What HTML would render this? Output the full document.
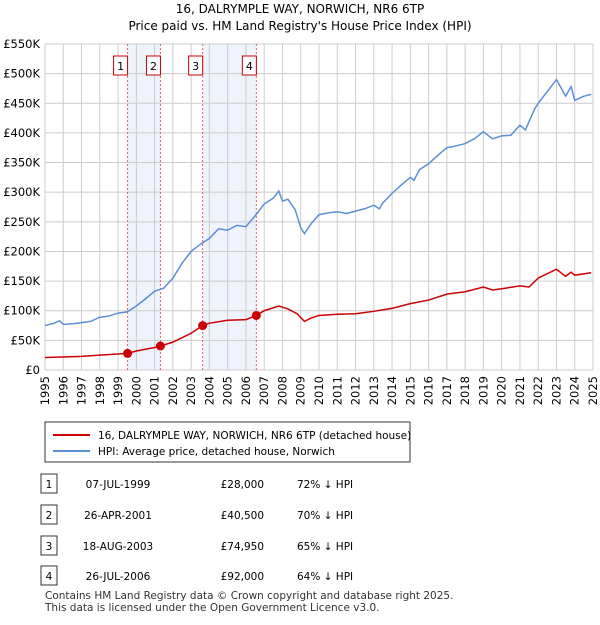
<!DOCTYPE html>
<html><head><meta charset="utf-8"><style>
body{margin:0;background:#fff;font-family:"Liberation Sans",sans-serif;}
svg text{font-family:"DejaVu Sans","Liberation Sans",sans-serif;}
</style></head><body>
<svg width="600" height="620" xmlns="http://www.w3.org/2000/svg">
<text x="300" y="13" text-anchor="middle" font-size="12">16, DALRYMPLE WAY, NORWICH, NR6 6TP</text>
<text x="300" y="30" text-anchor="middle" font-size="12">Price paid vs. HM Land Registry's House Price Index (HPI)</text>
<g id="plot"></g>
<g>
<rect x="45" y="422" width="365" height="40" fill="#fff" stroke="#333"/>
<line x1="53" y1="435" x2="90" y2="435" stroke="#cc0000" stroke-width="2"/>
<text x="98" y="439" font-size="10.5">16, DALRYMPLE WAY, NORWICH, NR6 6TP (detached house)</text>
<line x1="53" y1="451" x2="90" y2="451" stroke="#5b8fd4" stroke-width="2"/>
<text x="98" y="455" font-size="10.5">HPI: Average price, detached house, Norwich</text>
</g>
<g id="table" font-size="10.5"></g>
<text x="45" y="599" font-size="10.5" fill="#333">Contains HM Land Registry data © Crown copyright and database right 2025.</text>
<text x="45" y="611" font-size="10.5" fill="#333">This data is licensed under the Open Government Licence v3.0.</text>
</svg>
<script>
const hpiYears=[1995,1995.5,1995.8,1996,1996.5,1997,1997.5,1998,1998.5,1999,1999.5,2000,2000.5,2001,2001.5,2002,2002.5,2003,2003.5,2004,2004.5,2005,2005.5,2006,2006.5,2007,2007.5,2007.8,2008,2008.3,2008.7,2009,2009.2,2009.6,2010,2010.5,2011,2011.5,2012,2012.5,2013,2013.3,2013.5,2014,2014.5,2015,2015.2,2015.5,2016,2016.5,2017,2017.5,2018,2018.5,2019,2019.5,2020,2020.5,2021,2021.3,2021.8,2022,2022.5,2023,2023.5,2023.8,2024,2024.5,2024.9];
const hpiValues=[75,79,83,77,78,80,82,89,91,96,98,108,120,133,138,155,180,200,212,222,238,236,244,242,260,280,290,302,285,288,270,240,230,248,262,265,267,264,268,272,278,272,282,298,312,325,320,338,348,362,375,378,382,390,402,390,395,396,413,405,440,450,470,490,462,478,455,462,465];
const ppYears=[1995,1996,1997,1998,1999,1999.52,2000,2001,2001.32,2002,2003,2003.63,2004,2005,2006,2006.57,2007,2007.8,2008.3,2008.8,2009.2,2009.6,2010,2011,2012,2013,2014,2015,2016,2017,2018,2019,2019.5,2020,2021,2021.5,2022,2023,2023.5,2023.8,2024,2024.9];
const ppValues=[21,22,23,25,27,28,32,38,40.5,47,62,75,79,84,85,92,100,108,103,95,82,88,92,94,95,99,104,112,118,128,132,140,135,137,142,140,155,170,158,165,160,164];
const saleYears=[1999.52,2001.32,2003.63,2006.57];
const saleValues=[28,40.5,74.95,92];
const saleDates=["07-JUL-1999","26-APR-2001","18-AUG-2003","26-JUL-2006"];
const salePrices=["£28,000","£40,500","£74,950","£92,000"];
const salePcts=["72% ↓ HPI","70% ↓ HPI","65% ↓ HPI","64% ↓ HPI"];
const yTicks=[0,50,100,150,200,250,300,350,400,450,500,550];
const xTicks=[1995,1996,1997,1998,1999,2000,2001,2002,2003,2004,2005,2006,2007,2008,2009,2010,2011,2012,2013,2014,2015,2016,2017,2018,2019,2020,2021,2022,2023,2024,2025];
const NS="http://www.w3.org/2000/svg";
const X0=45,X1=593,Y0=370,Y1=44;
const xs=y=>X0+(y-1995)/30*(X1-X0);
const ys=v=>Y0-v/550*(Y0-Y1);
const plot=document.getElementById('plot');
function mk(t,a,p){const e=document.createElementNS(NS,t);for(const k in a)e.setAttribute(k,a[k]);(p||plot).appendChild(e);return e;}
// shading
for(let i=0;i<4;i+=2){const r=mk('rect',{x:xs(saleYears[i]),y:Y1,width:xs(saleYears[i+1])-xs(saleYears[i]),height:Y0-Y1,fill:'#eef3fc'});

}
yTicks.forEach(v=>{const l=mk('line',{x1:X0,x2:X1,y1:ys(v),y2:ys(v),stroke:'#ccc'});


const t=mk('text',{x:X0-5,y:ys(v)+4,'text-anchor':'end','font-size':'11.5'});t.textContent=v===0?'£0':'£'+v+'K';

});
xTicks.forEach(y=>{const l=mk('line',{x1:xs(y),x2:xs(y),y1:Y1,y2:Y0,stroke:'#ccc'});


const t=mk('text',{x:0,y:0,'font-size':'11.5','text-anchor':'end',transform:`translate(${xs(y)+4},${Y0+6}) rotate(-90)`});t.textContent=y;

});
saleYears.forEach((y,i)=>{const l=mk('line',{x1:xs(y),x2:xs(y),y1:Y1,y2:Y0,stroke:'#e06060','stroke-dasharray':'2,2'});


const r=mk('rect',{x:xs(y)-14,y:56,width:14,height:19,fill:'#fff',stroke:'#cc0000'});


const t=mk('text',{x:xs(y)-7,y:70,'text-anchor':'middle','font-size':'11'});t.textContent=i+1;

});
const hp=mk('polyline',{points:hpiYears.map((y,i)=>xs(y)+','+ys(hpiValues[i])).join(' '),fill:'none',stroke:'#5b8fd4','stroke-width':1.5});


const pp=mk('polyline',{points:ppYears.map((y,i)=>xs(y)+','+ys(ppValues[i])).join(' '),fill:'none',stroke:'#cc0000','stroke-width':1.5});


saleYears.forEach((y,i)=>{const c=mk('circle',{cx:xs(y),cy:ys(saleValues[i]),r:4.5,fill:'#cc0000'});

});
const tb=document.getElementById('table');
saleDates.forEach((d,i)=>{const yy=[484,515,546,576][i];
const r=mk('rect',{x:41,y:yy-10,width:16,height:19,fill:'#fff',stroke:'#333'},tb);


const n=mk('text',{x:49,y:yy+4,'text-anchor':'middle'},tb);n.textContent=i+1;


const a=mk('text',{x:118,y:yy+4,'text-anchor':'middle'},tb);a.textContent=d;


const b=mk('text',{x:264,y:yy+4,'text-anchor':'end'},tb);b.textContent=salePrices[i];


const c=mk('text',{x:297,y:yy+4},tb);c.textContent=salePcts[i];

});
</script>
</body></html>
